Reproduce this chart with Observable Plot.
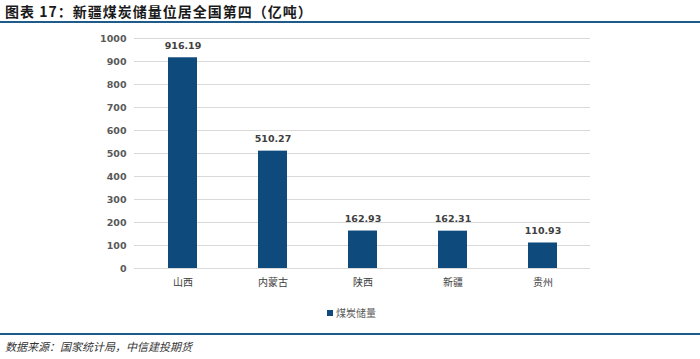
<!DOCTYPE html>
<html>
<head>
<meta charset="utf-8">
<script src="https://cdn.jsdelivr.net/npm/d3@7"></script>
<script src="https://cdn.jsdelivr.net/npm/@observablehq/plot@0.6"></script>
<style>
  html, body { margin: 0; padding: 0; background: #fff; }
  #wrap { position: relative; width: 700px; height: 359px; overflow: hidden; background: #fff; }
  #title { position: absolute; left: 5px; top: 1px; font-family: "Noto Sans CJK SC", sans-serif; font-weight: 700; font-size: 14px; color: #1a1a1a; letter-spacing: 1px; white-space: nowrap; }
  #tline { position: absolute; left: 0; top: 21px; width: 700px; height: 2px; background: #1d5b8c; }
  #chart { position: absolute; left: 0; top: 0; }
  #legend { position: absolute; top: 305px; left: 327px; font-family: "Noto Sans CJK SC", sans-serif; font-size: 10px; color: #595959; display: flex; align-items: center; white-space: nowrap; }
  #legend span.sw { display: inline-block; width: 6px; height: 6px; background: #0e4a7c; margin-right: 3px; }
  #fline { position: absolute; left: 0; top: 333px; width: 700px; height: 2px; background: #1d5b8c; }
  #foot { position: absolute; left: 5px; top: 338px; font-family: "Noto Sans CJK SC", sans-serif; font-style: italic; font-size: 11px; color: #333; white-space: nowrap; }
</style>
</head>
<body>
<div id="wrap">
  <div id="title">图表 17：新疆煤炭储量位居全国第四（亿吨）</div>
  <div id="tline"></div>
  <div id="chart"></div>
  <div id="legend"><span class="sw"></span>煤炭储量</div>
  <div id="fline"></div>
  <div id="foot">数据来源：国家统计局，中信建投期货</div>
</div>
<script>
const categories = ["山西", "内蒙古", "陕西", "新疆", "贵州"];
const reserves = [916.19, 510.27, 162.93, 162.31, 110.93];
const yTicks = [0, 100, 200, 300, 400, 500, 600, 700, 800, 900, 1000];

const data = categories.map((c, i) => ({ region: c, value: reserves[i] }));
const barColor = "#0e4a7c";

const chart = Plot.plot({
  width: 700,
  height: 295,
  marginTop: 38,
  marginBottom: 27,
  marginLeft: 134,
  marginRight: 110,
  style: { fontFamily: "'DejaVu Sans', 'Noto Sans CJK SC', sans-serif", background: "transparent" },
  x: { domain: categories, paddingInner: 0.68, paddingOuter: 0.35, label: null },
  y: { domain: [0, 1000], label: null },
  marks: [
    Plot.ruleY(yTicks, { stroke: "#d9d9d9", strokeWidth: 1 }),
    Plot.barY(data, { x: "region", y: "value", fill: barColor }),
    Plot.text(data, { x: "region", y: "value", text: d => d.value.toFixed(2), dy: -12, fontSize: 9.5, fontWeight: "bold", fill: "#404040" }),
    Plot.axisY({ ticks: yTicks, tickFormat: d => String(d), tickSize: 0, tickPadding: 8, fontSize: 9.5, fontWeight: "bold", color: "#595959", label: null }),
    Plot.axisX({ tickSize: 0, tickPadding: 10, fontSize: 10, color: "#404040", label: null, fontFamily: "'Noto Sans CJK SC', sans-serif" })
  ]
});
document.getElementById("chart").appendChild(chart);
</script>
</body>
</html>
